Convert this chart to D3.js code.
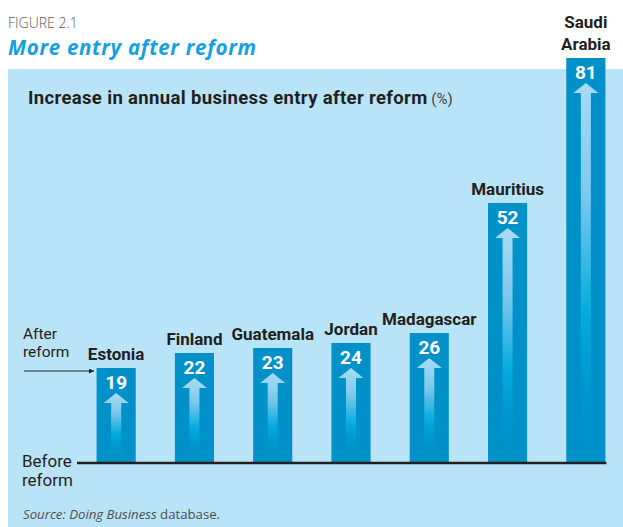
<!DOCTYPE html>
<html>
<head>
<meta charset="utf-8">
<script src="https://cdn.jsdelivr.net/npm/d3@7"></script>
<style>
  body { margin: 0; background: #fff; }
  svg { display: block; }
  .cond { font-family: "Roboto", sans-serif; }
</style>
</head>
<body>
<svg id="chart" width="623" height="527"></svg>
<script>
// data
var countries = ['Estonia', 'Finland', 'Guatemala', 'Jordan', 'Madagascar', 'Mauritius', 'Saudi Arabia'];
var increases = [19, 22, 23, 24, 26, 52, 81];
var labelLines = [['Estonia'], ['Finland'], ['Guatemala'], ['Jordan'], ['Madagascar'], ['Mauritius'], ['Saudi', 'Arabia']];

var barColor = '#0091c9';
var panelColor = '#b9e4f8';
var ink = '#231f20';

var svg = d3.select('#chart');

// background panel
svg.append('rect')
    .attr('x', 8).attr('y', 69)
    .attr('width', 615).attr('height', 458)
    .attr('fill', panelColor);

// headings
svg.append('text')
    .attr('x', 8).attr('y', 28)
    .attr('font-family', 'Open Sans, sans-serif')
    .attr('font-size', 14)
    .attr('font-weight', 300)
    .attr('fill', '#58595b')
    .text('FIGURE 2.1');

svg.append('text')
    .attr('x', 8).attr('y', 55)
    .attr('font-family', 'Open Sans, sans-serif')
    .attr('font-size', 20.5)
    .attr('letter-spacing', 0.7)
    .attr('font-weight', 'bold')
    .attr('font-style', 'italic')
    .attr('fill', '#14a0e3')
    .text('More entry after reform');

var sub = svg.append('text')
    .attr('class', 'cond')
    .attr('x', 28).attr('y', 104)
    .attr('font-size', 18.5)
    .attr('fill', ink);
sub.append('tspan').attr('font-weight', 'bold').attr('letter-spacing', 0.35)
    .text('Increase in annual business entry after reform');
sub.append('tspan').attr('font-size', 15).attr('fill', '#444').text(' (%)');

// scales
var x = d3.scaleBand()
    .domain(countries)
    .range([77, 625])
    .paddingInner(0.5)
    .paddingOuter(0.25);

var y = d3.scaleLinear()
    .domain([0, 81])
    .range([463, 58]);

var defs = svg.append('defs');
var grad = defs.append('linearGradient')
    .attr('id', 'arrowGrad')
    .attr('x1', 0).attr('y1', 0).attr('x2', 0).attr('y2', 1);
grad.append('stop').attr('offset', '0%').attr('stop-color', '#a9dcf3');
grad.append('stop').attr('offset', '30%').attr('stop-color', '#7cc8ec');
grad.append('stop').attr('offset', '62%').attr('stop-color', '#00acdc');
grad.append('stop').attr('offset', '100%').attr('stop-color', barColor).attr('stop-opacity', 0);

var data = countries.map(function (c, i) {
    return { country: c, value: increases[i], lines: labelLines[i] };
});

var bars = svg.append('g').selectAll('g')
    .data(data)
    .enter()
    .append('g');

bars.append('rect')
    .attr('x', function (d) { return x(d.country); })
    .attr('y', function (d) { return y(d.value); })
    .attr('width', x.bandwidth())
    .attr('height', function (d) { return y(0) - y(d.value); })
    .attr('fill', barColor);

// arrow inside each bar
bars.append('path')
    .attr('fill', 'url(#arrowGrad)')
    .attr('d', function (d) {
        var cx = x(d.country) + x.bandwidth() / 2;
        var tip = y(d.value) + 25;
        var base = tip + 10;
        var bottom = y(0) - 4;
        return 'M' + cx + ',' + tip +
            'L' + (cx + 12.5) + ',' + base +
            'L' + (cx + 5) + ',' + base +
            'L' + (cx + 5) + ',' + bottom +
            'L' + (cx - 5) + ',' + bottom +
            'L' + (cx - 5) + ',' + base +
            'L' + (cx - 12.5) + ',' + base + 'Z';
    });

// value labels
bars.append('text')
    .attr('class', 'cond')
    .attr('x', function (d) { return x(d.country) + x.bandwidth() / 2; })
    .attr('y', function (d) { return y(d.value) + 21; })
    .attr('text-anchor', 'middle')
    .attr('font-size', 19)
    .attr('font-weight', 'bold')
    .attr('fill', '#fff')
    .text(function (d) { return d.value; });

// country labels
bars.append('text')
    .attr('class', 'cond')
    .attr('text-anchor', 'middle')
    .attr('font-size', 17)
    .attr('font-weight', 'bold')
    .attr('fill', ink)
    .each(function (d) {
        var t = d3.select(this);
        var n = d.lines.length;
        d.lines.forEach(function (line, k) {
            t.append('tspan')
                .attr('x', x(d.country) + x.bandwidth() / 2)
                .attr('y', y(d.value) - 8 - (n - 1 - k) * 22)
                .text(line);
        });
    });

// baseline
var lastBar = x(countries[countries.length - 1]) + x.bandwidth();
svg.append('line')
    .attr('x1', 77).attr('x2', lastBar + 1)
    .attr('y1', y(0)).attr('y2', y(0))
    .attr('stroke', ink)
    .attr('stroke-width', 2.5);

// side annotations
var after = svg.append('text')
    .attr('class', 'cond')
    .attr('font-size', 15.5)
    .attr('fill', ink);
after.append('tspan').attr('x', 23).attr('y', 339).text('After');
after.append('tspan').attr('x', 23).attr('y', 357).text('reform');

defs.append('marker')
    .attr('id', 'head')
    .attr('viewBox', '0 0 10 10')
    .attr('refX', 10).attr('refY', 5)
    .attr('markerWidth', 7).attr('markerHeight', 5)
    .attr('markerUnits', 'userSpaceOnUse')
    .attr('orient', 'auto')
    .append('path')
    .attr('d', 'M0,0L10,5L0,10Z')
    .attr('fill', ink);

svg.append('line')
    .attr('x1', 24).attr('x2', 94)
    .attr('y1', 371).attr('y2', 371)
    .attr('stroke', ink)
    .attr('stroke-width', 1.2)
    .attr('marker-end', 'url(#head)');

var before = svg.append('text')
    .attr('class', 'cond')
    .attr('font-size', 17)
    .attr('fill', ink);
before.append('tspan').attr('x', 22).attr('y', 467).text('Before');
before.append('tspan').attr('x', 22).attr('y', 486).text('reform');

// source
var src = svg.append('text')
    .attr('x', 23).attr('y', 519)
    .attr('font-family', 'Open Sans, sans-serif')
    .attr('font-size', 13.2)
    .attr('fill', '#4d4d4f');
src.append('tspan').attr('font-style', 'italic').text('Source: Doing Business');
src.append('tspan').text(' database.');
</script>
</body>
</html>
